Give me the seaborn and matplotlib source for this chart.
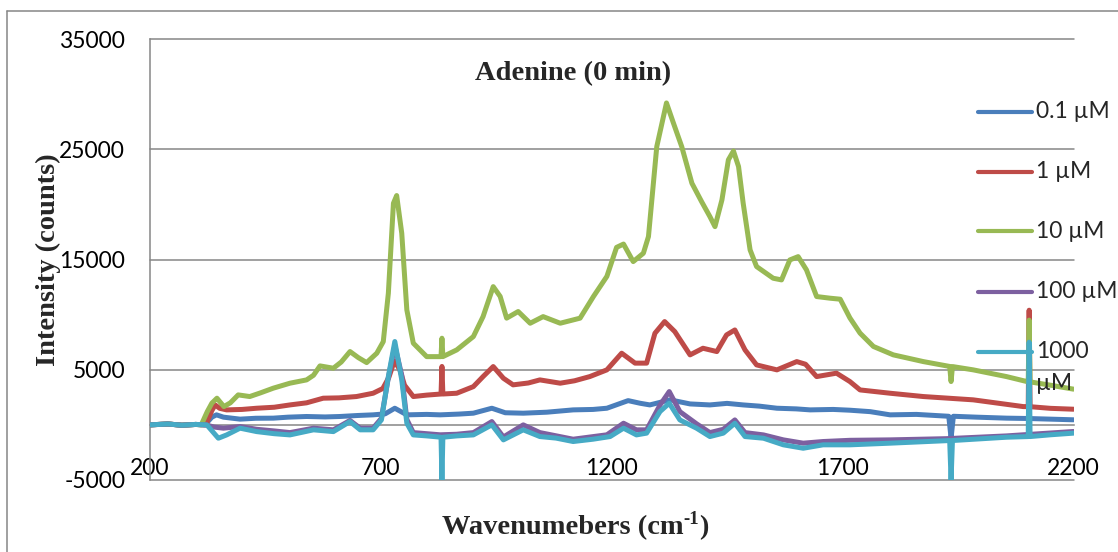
import matplotlib
matplotlib.use("Agg")
import matplotlib.pyplot as plt
from matplotlib.lines import Line2D
import pandas as pd
import seaborn as sns

# Series names and colours (Excel 2007 palette)
series_names = ["0.1 µM", "1 µM", "10 µM", "100 µM", "1000 µM"]
series_colors = ["#4A7EBB", "#BE4B48", "#98B954", "#7D60A0", "#46AAC5"]

# 0.1 µM
wn_01 = [200, 240, 270, 300, 320, 335, 345, 360, 396, 430, 468, 500, 540, 580, 612, 650,
         684, 710, 731, 757, 800, 829, 870, 901, 941, 970, 1009, 1060, 1117, 1160, 1190,
         1236, 1262, 1283, 1327, 1370, 1413, 1450, 1485, 1520, 1558, 1600, 1630, 1680,
         1716, 1760, 1803, 1860, 1930, 1935, 1940, 1990, 2055, 2100, 2150, 2200]
int_01 = [0, 80, -30, 40, 0, 700, 910, 700, 520, 600, 610, 700, 760, 720, 760, 850,
          910, 1000, 1510, 910, 950, 910, 980, 1060, 1510, 1100, 1060, 1150, 1360, 1400, 1510,
          2200, 1960, 1810, 2270, 1900, 1810, 1950, 1810, 1700, 1510, 1450, 1360, 1400,
          1330, 1200, 910, 950, 780, -1200, 780, 700, 610, 580, 520, 460]

# 1 µM
wn_1 = [200, 240, 270, 300, 322, 335, 342, 352, 367, 400, 432, 470, 504, 540, 576, 610,
        648, 684, 705, 718, 730, 742, 752, 771, 800, 831, 833, 835, 865, 901, 922, 944,
        966, 987, 1020, 1045, 1089, 1120, 1153, 1190, 1222, 1251, 1276, 1294, 1315, 1337,
        1370, 1398, 1428, 1449, 1467, 1489, 1514, 1558, 1601, 1620, 1644, 1687, 1716,
        1738, 1803, 1875, 1983, 2091, 2102, 2104, 2106, 2150, 2200]
int_1 = [0, 80, -30, 40, 0, 1300, 1810, 1500, 1360, 1400, 1510, 1600, 1810, 2000, 2420, 2450,
         2570, 2870, 3300, 4300, 5800, 5000, 3600, 2570, 2700, 2800, 5300, 2800, 2870, 3470, 4380, 5290,
         4230, 3630, 3800, 4080, 3780, 4000, 4380, 4990, 6500, 5600, 5600, 8310, 9370, 8460,
         6350, 6950, 6650, 8160, 8610, 6800, 5440, 4990, 5740, 5500, 4380, 4690, 3930,
         3170, 2870, 2570, 2270, 1660, 1650, 10400, 1650, 1500, 1420]

# 10 µM
wn_10 = [200, 240, 270, 300, 312, 325, 335, 346, 361, 375, 392, 417, 440, 468, 504, 540,
         555, 569, 598, 615, 634, 652, 670, 692, 706, 717, 728, 735, 746, 757, 771, 800,
         831, 833, 835, 865, 901, 922, 944, 959, 973, 998, 1024, 1052, 1089, 1132, 1161,
         1190, 1211, 1226, 1247, 1269, 1280, 1298, 1319, 1334, 1352, 1374, 1395, 1413,
         1424, 1439, 1453, 1464, 1475, 1485, 1500, 1514, 1550, 1568, 1586, 1604, 1622,
         1644, 1673, 1695, 1716, 1738, 1767, 1810, 1875, 1932, 1935, 1938, 1983, 2055,
         2099, 2102, 2104, 2106, 2150, 2200]
int_10 = [0, 80, -30, 40, 0, 1200, 1970, 2420, 1660, 2000, 2720, 2570, 2900, 3330, 3780, 4080,
          4500, 5350, 5140, 5700, 6650, 6100, 5650, 6500, 7550, 11940, 20100, 20800, 17380, 10430, 7410, 6190,
          6190, 7860, 6190, 6800, 8010, 9820, 12540, 11650, 9680, 10280, 9220, 9820, 9220, 9680, 11650,
          13470, 16100, 16400, 14810, 15570, 17080, 25240, 29200, 27380, 25240, 21920, 20250, 18890,
          17980, 20400, 24040, 24840, 23430, 20110, 15870, 14360, 13300, 13150, 14960, 15260, 14060,
          11640, 11490, 11400, 9700, 8320, 7110, 6350, 5740, 5300, 3930, 5290, 4990, 4380,
          3930, 3900, 9500, 3900, 3600, 3240]

# 100 µM
wn_100 = [200, 240, 270, 300, 322, 340, 360, 396, 432, 470, 504, 555, 598, 634, 656, 684,
          702, 717, 731, 746, 757, 771, 829, 865, 901, 941, 966, 1009, 1045, 1117, 1190,
          1226, 1254, 1276, 1305, 1325, 1348, 1384, 1413, 1442, 1467, 1489, 1529, 1572,
          1615, 1658, 1716, 1803, 1926, 2055, 2200]
int_100 = [0, 80, -30, 40, 0, -200, -300, -150, -400, -550, -700, -300, -450, 400, -300, -300,
           600, 4300, 7200, 4500, 500, -700, -900, -850, -700, 300, -1100, 0, -700, -1300, -900,
           150, -450, -450, 1800, 3020, 1200, 100, -700, -400, 450, -700, -910, -1360,
           -1660, -1510, -1400, -1360, -1250, -1000, -600]

# 1000 µM
wn_1000 = [200, 240, 270, 300, 324, 349, 367, 396, 432, 470, 504, 555, 598, 634, 656, 684,
           702, 717, 731, 746, 757, 771, 800, 831, 833, 835, 865, 901, 941, 966, 1009, 1045,
           1080, 1117, 1160, 1197, 1226, 1254, 1276, 1305, 1325, 1348, 1384, 1413, 1442,
           1467, 1489, 1529, 1572, 1615, 1658, 1716, 1803, 1932, 1935, 1938, 2055, 2102,
           2104, 2106, 2150, 2200]
int_1000 = [0, 80, -30, 40, 0, -1210, -910, -300, -610, -800, -910, -450, -610, 300, -450, -450,
            450, 4380, 7560, 4080, 150, -910, -1000, -1120, -5000, -1120, -1000, -910, 0, -1360, -450, -1060,
            -1200, -1510, -1300, -1060, -300, -910, -750, 1210, 1960, 450, -300, -1060, -750,
            150, -1060, -1210, -1810, -2120, -1810, -1810, -1660, -1420, -5000, -1420, -1120, -1060,
            7500, -1060, -900, -750]

x_ticks = [200, 700, 1200, 1700, 2200]
y_ticks = [-5000, 5000, 15000, 25000, 35000]

title_text = "Adenine (0 min)"
x_label_parts = ["Wavenumebers (cm", "-1", ")"]
y_label = "Intensity (counts)"

sns.set_style("white")
plt.rcParams["font.family"] = ["Lato", "DejaVu Sans"]

GRAY = "#868686"
W, H = 1118, 552

frames = []
for name, wn, it in zip(series_names, [wn_01, wn_1, wn_10, wn_100, wn_1000],
                        [int_01, int_1, int_10, int_100, int_1000]):
    frames.append(pd.DataFrame({"wn": wn, "I": it, "series": name}))
df = pd.concat(frames, ignore_index=True)

fig = plt.figure(figsize=(W / 100, H / 100), dpi=100)
ax = fig.add_axes([149.5 / W, 72 / H, 924 / W, 441 / H])

sns.lineplot(data=df, x="wn", y="I", hue="series", hue_order=series_names,
             palette=series_colors, estimator=None, sort=False, linewidth=3.6,
             legend=False, ax=ax, zorder=3,
             solid_capstyle="round", solid_joinstyle="round")

ax.set_xlim(200, 2200)
ax.set_ylim(-5000, 35000)
ax.set_xticks(x_ticks)
ax.set_yticks(y_ticks)
ax.set_xticklabels([str(v) for v in x_ticks])
ax.set_yticklabels([str(v) for v in y_ticks])
ax.set_xlabel("")
ax.set_ylabel("")

ax.grid(axis="y", color=GRAY, linewidth=1.1)
ax.grid(axis="x", visible=False)
for gl in ax.get_ygridlines():
    gl.set_clip_on(False)
ax.set_axisbelow(True)

for s in ("top", "right"):
    ax.spines[s].set_visible(False)
ax.spines["left"].set_color(GRAY)
ax.spines["left"].set_linewidth(1.1)
ax.spines["bottom"].set_color(GRAY)
ax.spines["bottom"].set_linewidth(1.1)
ax.spines["bottom"].set_position(("data", 0))

ax.tick_params(axis="x", direction="out", length=5.5, width=1.1, color=GRAY,
               labelsize=16.5, labelcolor="black", pad=18)
ax.tick_params(axis="y", direction="out", length=5.5, width=1.1, color=GRAY,
               labelsize=16.5, labelcolor="black", pad=12)

# Titles
serif = ["Liberation Serif", "DejaVu Serif"]
fig.text(573 / W, 1 - 74 / H, title_text, ha="center", va="center",
         fontsize=20.5, fontweight="bold", family=serif)
fig.text(48 / W, 1 - 260 / H, y_label, ha="center", va="center", rotation=90,
         fontsize=20.5, fontweight="bold", family=serif)

# x label with a raised "-1"
renderer = fig.canvas.get_renderer()
base_y = 1 - 534 / H
t_main = fig.text(0, base_y, x_label_parts[0], ha="left", va="baseline",
                  fontsize=20.5, fontweight="bold", family=serif)
t_sup = fig.text(0, base_y + 10 / H, x_label_parts[1], ha="left", va="baseline",
                 fontsize=13.5, fontweight="bold", family=serif)
t_end = fig.text(0, base_y, x_label_parts[2], ha="left", va="baseline",
                 fontsize=20.5, fontweight="bold", family=serif)
widths = [t.get_window_extent(renderer).width for t in (t_main, t_sup, t_end)]
x0 = 575 - sum(widths) / 2
for t, w in zip((t_main, t_sup, t_end), widths):
    t.set_x(x0 / W)
    x0 += w

# Legend on the right
for i, (name, col) in enumerate(zip(series_names, series_colors)):
    yc = 1 - (111.5 + 60 * i) / H
    fig.add_artist(Line2D([978 / W, 1032 / W], [yc, yc], color=col, lw=3.0,
                          solid_capstyle="round"))
    words = name.split(" ")
    if len(name) > 6:
        fig.text(1036.5 / W, yc, words[0], ha="left", va="center", fontsize=16.5)
        fig.text(1036.5 / W, yc - 31.6 / H, words[1], ha="left", va="center", fontsize=16.5)
    else:
        fig.text(1036.5 / W, yc, name, ha="left", va="center", fontsize=16.5)

# Chart frame
fig.add_artist(Line2D([7 / W, 7 / W], [-0.05, 1 - 11 / H], color=GRAY, lw=1.1))
fig.add_artist(Line2D([7 / W, 1.05], [1 - 11 / H, 1 - 11 / H], color=GRAY, lw=1.1))

fig.savefig("out.png", dpi=100)
